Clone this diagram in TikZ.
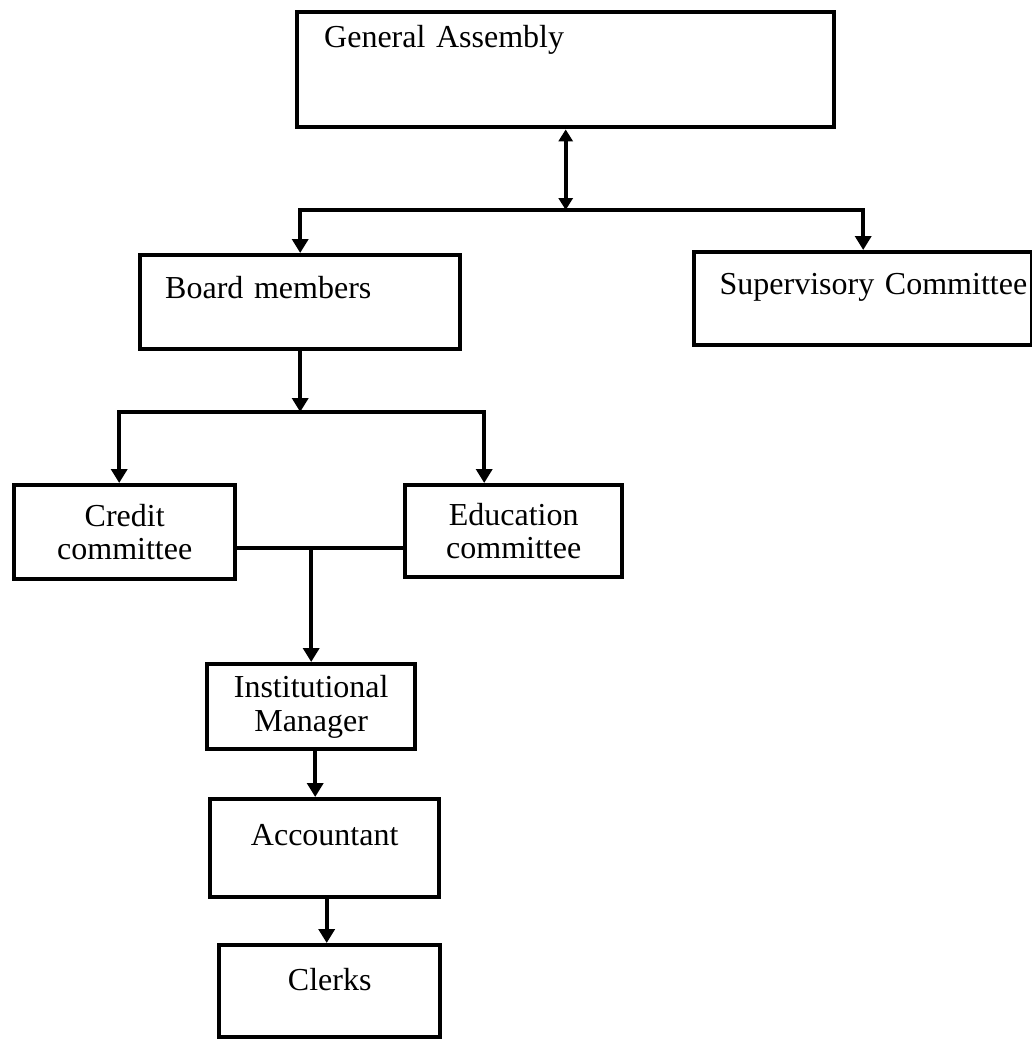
\documentclass[tikz,border=0pt]{standalone}
\usepackage{fontspec}
\setmainfont{Liberation Serif}
\usetikzlibrary{arrows.meta}

\begin{document}
\begin{tikzpicture}[x=0.5pt,y=-0.5pt,
        orgbox/.style={draw, line width=2.2pt, inner xsep=0pt, inner ysep=0pt, anchor=north west, font=\fontsize{16}{16.8}\selectfont},
        link/.style={line width=2.2pt},
        arr/.style={link, -{Triangle[width=8pt,length=7pt]}}]
        \useasboundingbox (0,0) rectangle (1032,1039);

        % Draw the boxes
        \node[orgbox, inner xsep=13.5pt, text width=241.5pt, align=left, text height=17.5pt, text depth=40pt] (ga) at (295,10) {General Assembly};
        \node[orgbox, inner xsep=12.5pt, text width=135pt, align=left, text height=21.5pt, text depth=25.5pt] (board) at (138,253) {Board members};
        \node[orgbox, inner xsep=2.5pt, text width=164pt, align=right, text height=21pt, text depth=25.5pt] (sup) at (692,250) {Supervisory Committee};
        \node[orgbox, text width=110.5pt, align=center, minimum height=47pt] (credit) at (12,483) {Credit\\committee};
        \node[orgbox, text width=108.5pt, align=center, minimum height=46pt] (edu) at (403,483) {Education\\committee};
        \node[orgbox, text width=104pt, align=center, minimum height=42.5pt] (im) at (205,662) {Institutional\\Manager};
        \node[orgbox, text width=114.5pt, align=center, text height=23pt, text depth=26pt] (acc) at (208,797) {Accountant};
        \node[orgbox, text width=110.5pt, align=center, text height=22.5pt, text depth=23.5pt] (clerks) at (217,943) {Clerks};

        % Branch points
        \coordinate (split) at (ga.south |- 0,210);
        \coordinate (fork) at (board.south |- 0,412);
        \coordinate (join) at (im.north |- 0,548);

        % Draw the connectors
        \draw[link, {Triangle[width=7pt,length=6pt]}-{Triangle[width=7pt,length=6pt]}] (ga.south) -- (split);
        \draw[arr] (split) -| (board.north);
        \draw[arr] (split) -| (sup.north);
        \draw[arr] (board.south) -- (fork);
        \draw[arr] (fork) -| ([xshift=-2.75pt]credit.north);
        \draw[arr] (fork) -| ([xshift=-14.75pt]edu.north);
        \draw[link] (credit.east |- join) -- (edu.west |- join);
        \draw[arr] (join) -- (im.north);
        \draw[arr] ([xshift=2pt]im.south) -- ([xshift=2pt]im.south |- acc.north);
        \draw[arr] ([xshift=1pt]acc.south) -- ([xshift=1pt]acc.south |- clerks.north);
    \end{tikzpicture}
\end{document}
